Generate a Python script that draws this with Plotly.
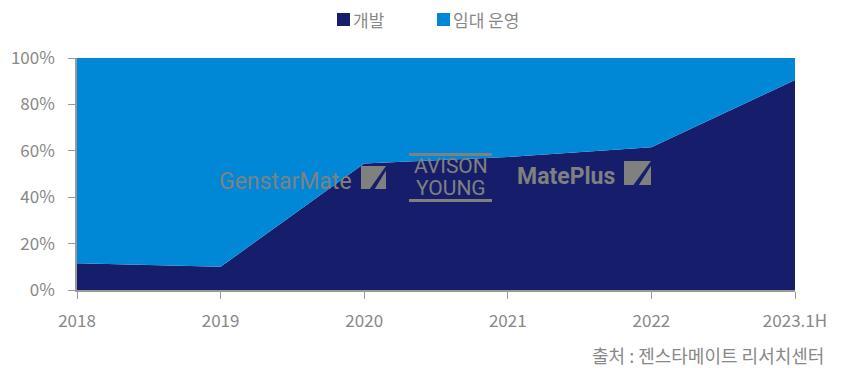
import plotly.graph_objects as go

categories = ["2018", "2019", "2020", "2021", "2022", "2023.1H"]
develop = [11.5, 10.0, 54.5, 57.3, 61.5, 90.5]
lease = [100 - v for v in develop]
series_names = ["개발", "임대 운영"]
y_ticks = [0, 20, 40, 60, 80, 100]

NAVY = "#161E6B"
BLUE = "#0088D7"
GRAY = "#888888"
FONT = "Noto Sans CJK KR"

xs = list(range(len(categories)))
fig = go.Figure()
fig.add_trace(go.Scatter(x=xs, y=develop, name=series_names[0], stackgroup="one",
                         mode="none", fillcolor=NAVY, line=dict(width=0), showlegend=False))
fig.add_trace(go.Scatter(x=xs, y=lease, name=series_names[1], stackgroup="one",
                         mode="none", fillcolor=BLUE, line=dict(width=0), showlegend=False))

L, R, T, B = 77, 795, 58, 290
def px(x): return (x - L) / (R - L)
def py(y): return (B - y) / (B - T)

WM = "#808080"
shapes = []
annotations = []
def ann(text, x, y, size, bold=False, color=WM, family="Roboto", xanchor="center"):
    annotations.append(dict(text=f"<b>{text}</b>" if bold else text, x=px(x), y=py(y),
                            xref="paper", yref="paper", xanchor=xanchor, yanchor="middle",
                            showarrow=False, font=dict(family=family, size=size, color=color)))

def icon(x0, y0, x1, y1):
    return [
        dict(type="path", xref="paper", yref="paper", layer="above", line=dict(width=0), fillcolor=WM,
             path=f"M {px(x0)},{py(y0)} L {px(x1)},{py(y0)} L {px(x0 + (x1-x0)*0.35)},{py(y1)} L {px(x0)},{py(y1)} Z"),
        dict(type="path", xref="paper", yref="paper", layer="above", line=dict(width=0), fillcolor=WM,
             path=f"M {px(x1)},{py(y0 + (y1-y0)*0.2)} L {px(x1)},{py(y1)} L {px(x0 + (x1-x0)*0.55)},{py(y1)} Z"),
    ]

# legend (manual: square directly followed by text)
legend_x = [337, 437]
for nm, col, lx in zip(series_names, [NAVY, BLUE], legend_x):
    shapes.append(dict(type="rect", xref="paper", yref="paper", line=dict(width=0), fillcolor=col,
                       x0=px(lx), x1=px(lx + 13), y0=py(26), y1=py(13)))
    ann(nm, lx + 14, 19.5, 17, color=GRAY, family=FONT, xanchor="left")

# GenstarMate watermark
ann("GenstarMate", 285, 181, 23)
shapes += icon(361, 166, 386, 189)
# AVISON YOUNG
for yy0, yy1 in [(153, 156), (199, 202)]:
    shapes.append(dict(type="rect", xref="paper", yref="paper", layer="above", line=dict(width=0),
                       fillcolor=WM, x0=px(409), x1=px(492), y0=py(yy0), y1=py(yy1)))
ann("AVISON", 450.5, 166, 21)
ann("YOUNG", 450.5, 188, 21)
# MatePlus
ann("MatePlus", 566, 176, 23, bold=True)
shapes += icon(624, 161, 651, 185)

# source
ann("출처 : 젠스타메이트 리서치센터", 826, 355, 18, color=GRAY, family=FONT, xanchor="right")

fig.update_layout(
    width=841, height=368,
    margin=dict(l=L, r=841 - R, t=T, b=368 - B, autoexpand=False),
    plot_bgcolor="white", paper_bgcolor="white",
    font=dict(family=FONT, size=16, color=GRAY),
    showlegend=False,
    xaxis=dict(range=[0, 5], tickvals=xs, ticktext=categories, showgrid=False, zeroline=False,
               showline=True, linecolor="#999999", linewidth=1.5, ticks="outside", ticklen=7,
               tickcolor="#999999", tickfont=dict(size=17, color=GRAY), ticklabelstandoff=8),
    yaxis=dict(range=[0, 100], tickvals=y_ticks, ticktext=[f"{v}%" for v in y_ticks],
               showgrid=False, zeroline=False, showline=True, linecolor="#999999", linewidth=1.5,
               ticks="outside", ticklen=7, tickcolor="#999999", tickfont=dict(size=17, color=GRAY),
               ticklabelstandoff=10),
    shapes=shapes, annotations=annotations,
)
fig.write_html("out.html")
